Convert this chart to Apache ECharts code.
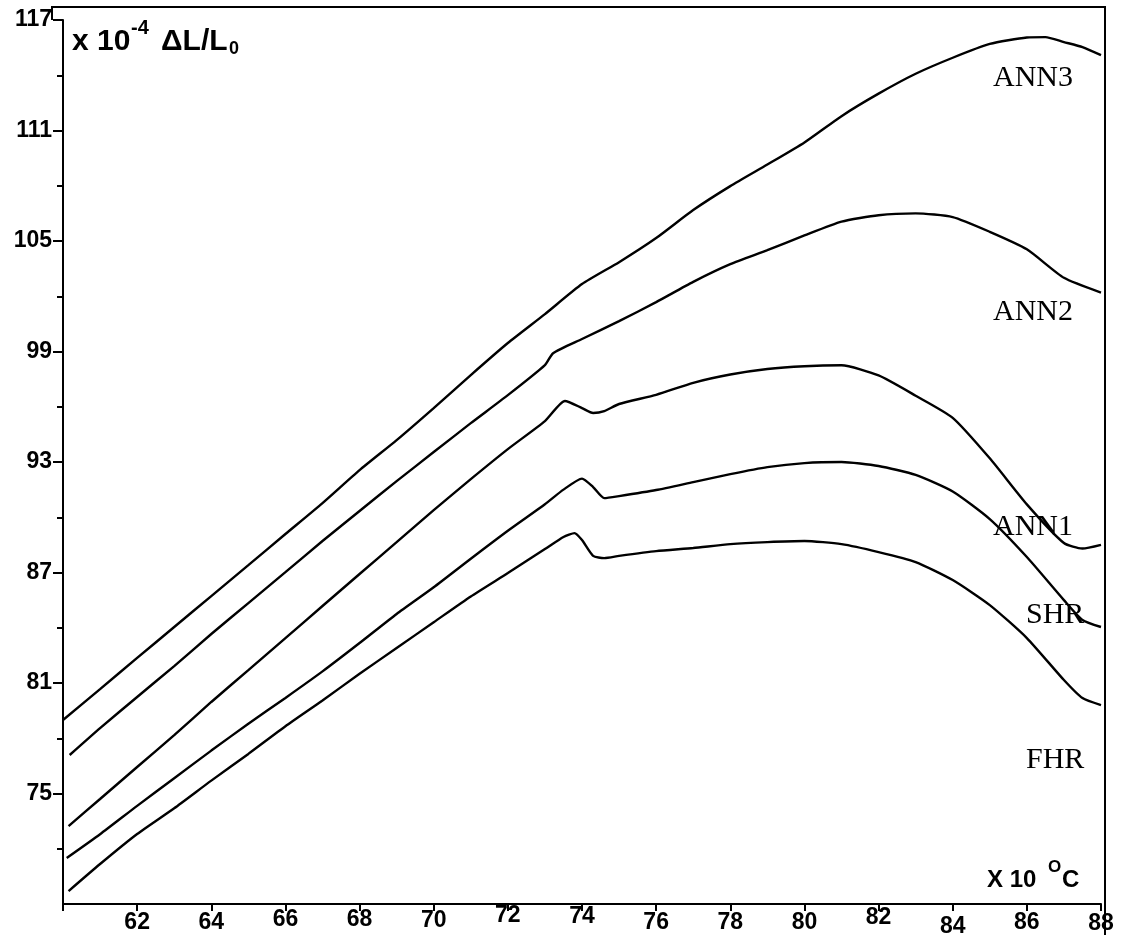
<!DOCTYPE html>
<html><head><meta charset="utf-8">
<script src="https://cdn.jsdelivr.net/npm/echarts@6/dist/echarts.min.js"></script>
<style>html,body{margin:0;padding:0;background:#fff}#chart{width:1123px;height:942px}</style>
</head><body><div id="chart"></div>
<script>
// ---- data (x in units of 10 °C, y in units of 1e-4 ΔL/L0) ----
const xTickValues = [60,62,64,66,68,70,72,74,76,78,80,82,84,86,88];
const yMajorTicks = [75,81,87,93,99,105,111,117];
const yMinorTicks = [72,78,84,90,96,102,108,114];

const fhrX = [60.15,61,62,63,64,65,66,67,68,69,70,71,72,73,73.5,73.8,74,74.3,74.6,75,76,77,78,79,80,81,82,83,84,85,86,87,87.5,88];
const fhrY = [69.7,71.17,72.8,74.2,75.7,77.15,78.65,80.05,81.5,82.9,84.3,85.7,86.97,88.27,88.93,89.14,88.76,87.9,87.78,87.9,88.16,88.33,88.54,88.65,88.71,88.54,88.11,87.57,86.59,85.23,83.44,81.16,80.18,79.8];

const shrX = [60.1,61,62,63,64,65,66,67,68,69,70,71,72,73,73.5,74,74.3,74.6,75,76,77,78,79,80,81,82,83,84,85,86,87,87.5,88];
const shrY = [71.5,72.79,74.33,75.83,77.33,78.79,80.19,81.63,83.17,84.75,86.2,87.75,89.27,90.71,91.5,92.1,91.64,91.04,91.15,91.48,91.91,92.34,92.72,92.94,93.0,92.78,92.3,91.4,89.9,87.84,85.5,84.42,84.04];

const ann1X = [60.15,61,62,63,64,65,66,67,68,69,70,71,72,73,73.54,74,74.3,74.6,75,76,77,78,79,80,81,82,83,84,85,86,87,87.5,88];
const ann1Y = [73.23,74.7,76.44,78.17,79.97,81.7,83.44,85.18,86.92,88.65,90.39,92.07,93.7,95.22,96.31,95.93,95.66,95.76,96.15,96.65,97.3,97.75,98.05,98.2,98.25,97.7,96.6,95.4,93.2,90.7,88.6,88.3,88.5];

const ann2X = [60.18,61,62,63,64,65,66,67,68,69,70,71,72,73,73.22,74,75,76,77,78,79,80,81,82,83,84,85,86,87,88];
const ann2Y = [77.09,78.55,80.24,81.92,83.66,85.34,87.02,88.71,90.34,91.96,93.54,95.11,96.63,98.26,98.91,99.68,100.65,101.68,102.78,103.74,104.5,105.3,106.05,106.4,106.5,106.3,105.5,104.55,103.0,102.2];

const ann3X = [60,61,62,63,64,65,66,67,68,69,70,71,72,73,74,75,76,77,78,79,80,81,82,83,84,85,86,86.5,87,87.5,88];
const ann3Y = [78.99,80.67,82.36,84.04,85.72,87.4,89.09,90.77,92.56,94.19,95.93,97.72,99.46,101.03,102.66,103.85,105.16,106.68,107.98,109.15,110.35,111.78,113.0,114.08,114.95,115.7,116.05,116.07,115.8,115.53,115.09];

const seriesNames = ['FHR','SHR','ANN1','ANN2','ANN3'];

// ---- styling ----
const SANS = '"Liberation Sans", Arial, sans-serif';
const SERIF = '"Liberation Serif", "Times New Roman", serif';
const TICK_FONT = 23;
const labelShift = {62:0,64:0,66:-3,68:-3,70:-2,72:-7,74:-6,76:0,78:0,80:0,82:-5,84:4,86:0,88:1};
const rich = {};
for (let p = 0; p <= 14; p++) {
  rich['p' + p] = {padding:[p,0,0,0], fontSize:TICK_FONT, fontWeight:'bold', fontFamily:SANS, color:'#000'};
}

function pairs(xs, ys){ return xs.map((x,i)=>[x, ys[i]]); }
const allData = [pairs(fhrX,fhrY), pairs(shrX,shrY), pairs(ann1X,ann1Y), pairs(ann2X,ann2Y), pairs(ann3X,ann3Y)];

const chart = echarts.init(document.getElementById('chart'), null, {renderer:'canvas'});
const axisLineStyle = {color:'#000', width:2};

chart.setOption({
  animation:false,
  backgroundColor:'#fff',
  grid:{left:63, right:22, top:20, bottom:38, containLabel:false, outerBoundsMode:'none'},
  xAxis:{
    type:'value', min:60, max:88, interval:2,
    axisLine:{lineStyle:axisLineStyle},
    axisTick:{length:7, lineStyle:axisLineStyle},
    splitLine:{show:false},
    axisLabel:{
      margin:0, showMinLabel:true, showMaxLabel:true,
      formatter:function(v){ if (v===60) return ''; const s = labelShift[v]||0; return '{p'+(7+s)+'|'+v+'}'; },
      rich:rich, fontSize:TICK_FONT, fontWeight:'bold', fontFamily:SANS, color:'#000'
    }
  },
  yAxis:[{
    type:'value', min:69, max:117, interval:3,
    axisLine:{lineStyle:axisLineStyle},
    axisTick:{length:10, lineStyle:axisLineStyle, customValues:yMajorTicks},
    splitLine:{show:false},
    axisLabel:{customValues:yMajorTicks, margin:11, fontSize:TICK_FONT, fontWeight:'bold', fontFamily:SANS, color:'#000'}
  },{
    type:'value', min:69, max:117, interval:3, position:'left', offset:0,
    axisLine:{show:false},
    axisTick:{length:6, lineStyle:axisLineStyle, customValues:yMinorTicks},
    splitLine:{show:false},
    axisLabel:{show:false}
  }],
  series: allData.map((d,i)=>({
    name:seriesNames[i], type:'line', data:d, showSymbol:false, smooth:0.2,
    lineStyle:{color:'#000', width:2.4}, z:3
  })),
  graphic:[
    {type:'polyline', shape:{points:[[52,20],[52,7],[1105,7],[1105,935]]}, style:{stroke:'#000', lineWidth:2, fill:null}},
    {type:'text', x:72, y:42, style:{text:'x 10', font:'bold 30px '+SANS, fill:'#000', verticalAlign:'middle', align:'left'}},
    {type:'text', x:131, y:28, style:{text:'-4', font:'bold 20px '+SANS, fill:'#000', verticalAlign:'middle', align:'left'}},
    {type:'text', x:161, y:42, style:{text:'\u0394L/L', font:'bold 30px '+SANS, fill:'#000', verticalAlign:'middle', align:'left'}},
    {type:'text', x:229, y:49, style:{text:'0', font:'bold 18px '+SANS, fill:'#000', verticalAlign:'middle', align:'left'}},
    {type:'text', x:987, y:880, style:{text:'X 10', font:'bold 24px '+SANS, fill:'#000', verticalAlign:'middle', align:'left'}},
    {type:'text', x:1048, y:867, style:{text:'O', font:'bold 17px '+SANS, fill:'#000', verticalAlign:'middle', align:'left'}},
    {type:'text', x:1062, y:880, style:{text:'C', font:'bold 24px '+SANS, fill:'#000', verticalAlign:'middle', align:'left'}},
    {type:'text', x:993, y:78, style:{text:'ANN3', font:'30px '+SERIF, fill:'#000', verticalAlign:'middle', align:'left'}},
    {type:'text', x:993, y:312, style:{text:'ANN2', font:'30px '+SERIF, fill:'#000', verticalAlign:'middle', align:'left'}},
    {type:'text', x:993, y:527, style:{text:'ANN1', font:'30px '+SERIF, fill:'#000', verticalAlign:'middle', align:'left'}},
    {type:'text', x:1026, y:615, style:{text:'SHR', font:'30px '+SERIF, fill:'#000', verticalAlign:'middle', align:'left'}},
    {type:'text', x:1026, y:760, style:{text:'FHR', font:'30px '+SERIF, fill:'#000', verticalAlign:'middle', align:'left'}}
  ]
});
</script></body></html>
